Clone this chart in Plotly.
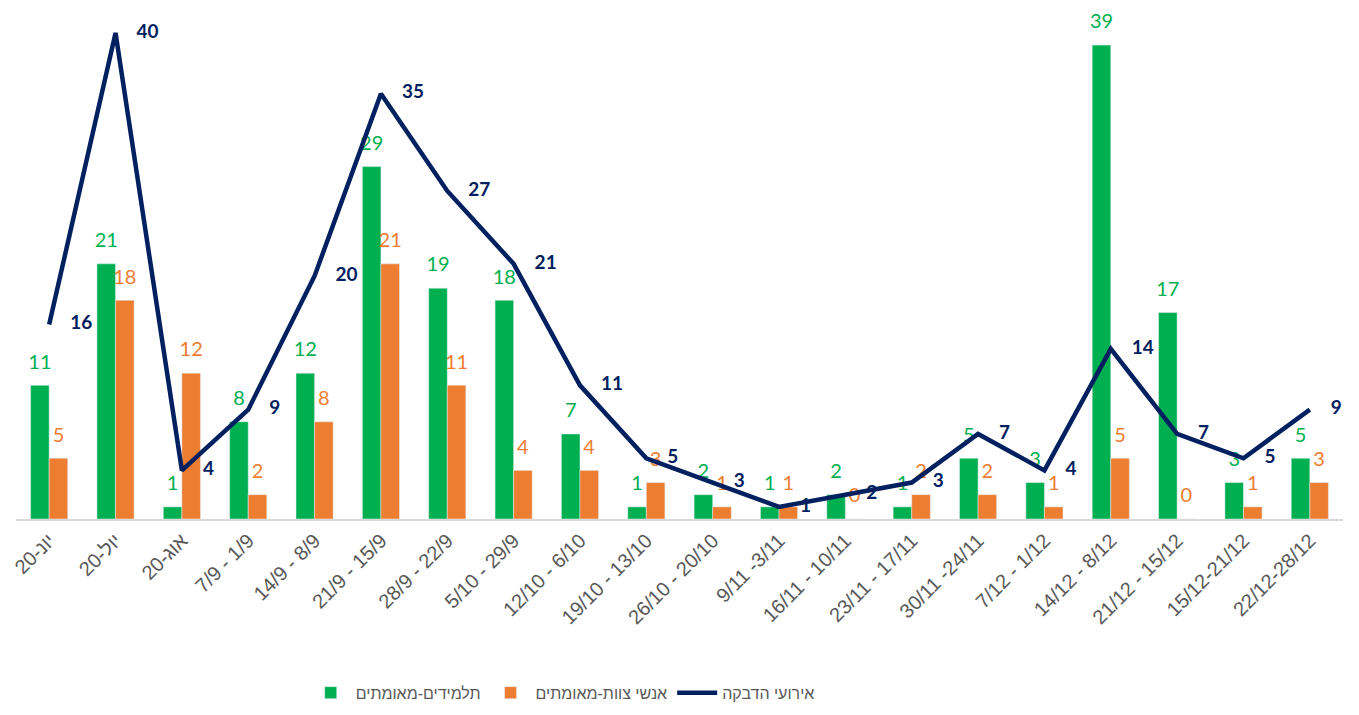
import plotly.graph_objects as go

categories = ["20-יונ", "20-יול", "20-אוג", "7/9 - 1/9", "14/9 - 8/9", "21/9 - 15/9",
              "28/9 - 22/9", "5/10 - 29/9", "12/10 - 6/10", "19/10 - 13/10",
              "26/10 - 20/10", "9/11 -3/11", "16/11 - 10/11", "23/11 - 17/11",
              "30/11 -24/11", "7/12 - 1/12", "14/12 - 8/12", "21/12 - 15/12",
              "15/12-21/12", "22/12-28/12"]
students = [11, 21, 1, 8, 12, 29, 19, 18, 7, 1, 2, 1, 2, 1, 5, 3, 39, 17, 3, 5]
staff = [5, 18, 12, 2, 8, 21, 11, 4, 4, 3, 1, 1, 0, 2, 2, 1, 5, 0, 1, 3]
events = [16, 40, 4, 9, 20, 35, 27, 21, 11, 5, 3, 1, 2, 3, 7, 4, 14, 7, 5, 9]

GREEN = "#00B050"
ORANGE = "#ED7D31"
NAVY = "#002060"
FONT = "Lato"


def bar_label(v):
    return f"<span style='font-size:20px'>{v}</span><br>\u00a0"


fig = go.Figure()
fig.add_trace(go.Bar(
    x=categories, y=students, name="תלמידים-מאומתים",
    marker_color=GREEN, text=[bar_label(v) for v in students], textposition="outside",
    textfont=dict(color=GREEN, size=9, family=FONT),
    constraintext="none", cliponaxis=False,
))
fig.add_trace(go.Bar(
    x=categories, y=staff, name="אנשי צוות-מאומתים",
    marker_color=ORANGE, text=[bar_label(v) for v in staff], textposition="outside",
    textfont=dict(color=ORANGE, size=9, family=FONT),
    constraintext="none", cliponaxis=False,
))
fig.add_trace(go.Scatter(
    x=categories, y=events, name="אירועי הדבקה",
    mode="lines+markers+text",
    line=dict(color=NAVY, width=4.5),
    marker=dict(size=32, color="rgba(0,0,0,0)"),
    text=[f"<b>{v}</b>" for v in events], textposition="middle right",
    textfont=dict(color=NAVY, size=19, family=FONT),
    cliponaxis=False,
))

fig.update_layout(
    width=1359, height=715,
    margin=dict(l=16, r=16, t=5, b=193),
    plot_bgcolor="white", paper_bgcolor="white",
    barmode="group", bargap=0.44, bargroupgap=0,
    showlegend=True,
    legend=dict(orientation="h", x=0.412, xanchor="center", y=-0.338, yanchor="middle",
                font=dict(size=16, color="#595959", family="Liberation Sans"),
                traceorder="normal", itemwidth=40),
    font=dict(family=FONT),
)
fig.update_xaxes(
    range=[-0.5, len(categories) - 0.5],
    tickangle=-45, tickfont=dict(size=20, color="#595959", family="Liberation Sans"),
    showline=True, linecolor="#D9D9D9", linewidth=2, ticks="",
    showgrid=False, automargin=False,
)
fig.update_yaxes(range=[0, 42.3], visible=False, showgrid=False)

fig.write_html("out.html", config={"displayModeBar": False},
               post_script="document.body.style.margin='0';")
